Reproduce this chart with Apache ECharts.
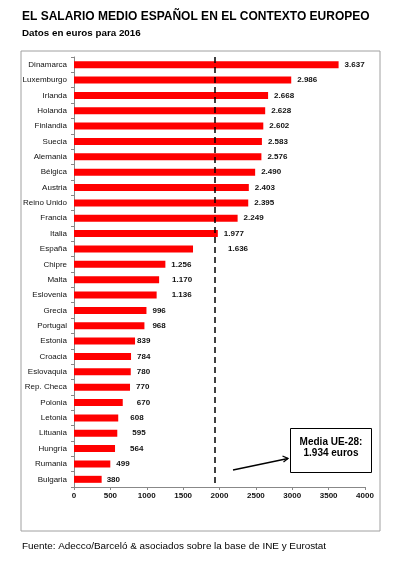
<!DOCTYPE html>
<html>
<head>
<meta charset="utf-8">
<script src="https://cdn.jsdelivr.net/npm/echarts@6/dist/echarts.min.js"></script>
<style>html,body{margin:0;padding:0;background:#fff;}#c{width:395px;height:572px;}</style>
</head>
<body>
<div id="c"></div>
<script>
const countries = ['Dinamarca','Luxemburgo','Irlanda','Holanda','Finlandia','Suecia','Alemania','Bélgica','Austria','Reino Unido','Francia','Italia','España','Chipre','Malta','Eslovenia','Grecia','Portugal','Estonia','Croacia','Eslovaquia','Rep. Checa','Polonia','Letonia','Lituania','Hungría','Rumania','Bulgaria'];
const salaries = [3637,2986,2668,2628,2602,2583,2576,2490,2403,2395,2249,1977,1636,1256,1170,1136,996,968,839,784,780,770,670,608,595,564,499,380];
const xTicks = [0,500,1000,1500,2000,2500,3000,3500,4000];
const euAverage = 1934;

// label nudges (style only)
const labelShift = {'España':29,'Malta':7,'Eslovenia':9,'Portugal':2,'Estonia':-4,'Polonia':8,'Letonia':6,'Lituania':9,'Hungría':9,'Bulgaria':-1};

function fmt(v){ return String(v).replace(/\B(?=(\d{3})+(?!\d))/g,'.'); }

const chart = echarts.init(document.getElementById('c'), null, {renderer:'canvas'});
const FONT = 'Liberation Sans, Arial, sans-serif';
chart.setOption({
  animation:false,
  backgroundColor:'#fff',
  title:[
    {text:'EL SALARIO MEDIO ESPAÑOL EN EL CONTEXTO EUROPEO', left:17, top:6, padding:5,
     textStyle:{fontFamily:FONT, fontSize:12, fontWeight:'bold', color:'#000'}},
    {text:'Datos en euros para 2016', left:17, top:23, padding:5,
     textStyle:{fontFamily:FONT, fontSize:9.8, fontWeight:'bold', color:'#000'}},
    {text:'Fuente: Adecco/Barceló & asociados sobre la base de INE y Eurostat', left:17, top:536, padding:5,
     textStyle:{fontFamily:FONT, fontSize:9.9, fontWeight:'normal', color:'#000'}}
  ],
  grid:{left:74, right:30, top:57, bottom:85, containLabel:false},
  xAxis:{
    type:'value', min:xTicks[0], max:xTicks[xTicks.length-1], interval:xTicks[1]-xTicks[0],
    axisLine:{show:true, lineStyle:{color:'#888', width:1}},
    axisTick:{show:true, length:3, lineStyle:{color:'#888'}},
    splitLine:{show:false},
    axisLabel:{fontFamily:FONT, fontSize:8, fontWeight:'bold', color:'#111', margin:5, formatter:v=>String(v)}
  },
  yAxis:{
    type:'category', data:countries, inverse:true,
    axisLine:{show:true, lineStyle:{color:'#888', width:1}},
    axisTick:{show:true, length:3, lineStyle:{color:'#888'}},
    axisLabel:{fontFamily:FONT, fontSize:8, color:'#111', margin:7}
  },
  series:[{
    type:'bar',
    barWidth:7,
    itemStyle:{color:'#ff0000'},
    data:salaries.map((v,i)=>({value:v, label:{distance:6+(labelShift[countries[i]]||0)}})),
    label:{show:true, position:'right', formatter:p=>fmt(p.value),
      fontFamily:FONT, fontSize:8, fontWeight:'bold', color:'#111'},
    markLine:{
      silent:true, symbol:'none',
      lineStyle:{color:'#000', type:[6,4], width:1.5},
      label:{show:false},
      data:[{xAxis:euAverage}]
    }
  }],
  graphic:[
    {type:'rect', shape:{x:21, y:51, width:359, height:480}, style:{fill:'none', stroke:'#a0a0a0', lineWidth:1}, z:-1},
    {type:'rect', shape:{x:290.5, y:428.5, width:81, height:44}, style:{fill:'#fff', stroke:'#000', lineWidth:1}, z:10},
    {type:'text', x:331, y:442.5, style:{text:'Media UE-28:', fontFamily:FONT, fontSize:10, fontWeight:'bold', fill:'#000', align:'center', verticalAlign:'middle'}, z:11},
    {type:'text', x:331, y:453, style:{text:'1.934 euros', fontFamily:FONT, fontSize:10, fontWeight:'bold', fill:'#000', align:'center', verticalAlign:'middle'}, z:11},
    {type:'line', shape:{x1:233, y1:470, x2:288, y2:458.5}, style:{stroke:'#000', lineWidth:1.3}, z:11},
    {type:'polyline', shape:{points:[[282.5,456],[288,458.5],[283.5,462]]}, style:{stroke:'#000', lineWidth:1.3, fill:'none'}, z:11}
  ]
});
</script>
</body>
</html>
